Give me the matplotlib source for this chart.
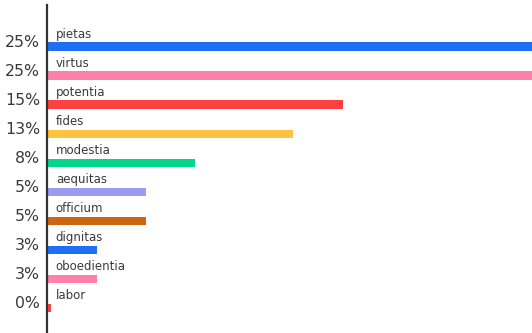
import numpy as np
import matplotlib.pyplot as plt

# data
categories = ['pietas', 'virtus', 'potentia', 'fides', 'modestia',
              'aequitas', 'officium', 'dignitas', 'oboedientia', 'labor']
counts = [10, 10, 6, 5, 3, 2, 2, 1, 1, 0]
colors = ['#1f6ff5', '#ff80aa', '#ff4040', '#ffc43d', '#00d68c',
          '#9a9af2', '#cc6610', '#1f6ff5', '#ff80aa', '#ff4040']

total = sum(counts)
pct_labels = [f'{round(c / total * 100 + 1e-9)}%' for c in counts]

fig = plt.figure(figsize=(5.32, 3.33), dpi=100)
ax = fig.add_axes([47 / 532, 0, 485 / 532, 328 / 333])

y = np.arange(len(categories))
# give empty categories a tiny visible stub like the original
widths = np.maximum(counts, 0.06)
ax.barh(y, widths, height=0.31, color=colors, left=0.02)

ax.set_xlim(0, 9.88)
ax.set_ylim(9.862, -1.448)

for i, (cat, pct) in enumerate(zip(categories, pct_labels)):
    ax.text(0.18, i - 0.31, cat, ha='left', va='baseline',
            fontsize=8.5, color='#3a3a3a')
    ax.text(-0.14, i - 0.15, pct, ha='right', va='center',
            fontsize=11.3, color='#3a3a3a', clip_on=False)

for s in ['top', 'right', 'bottom']:
    ax.spines[s].set_visible(False)
ax.spines['left'].set_linewidth(1.6)
ax.spines['left'].set_color('#333333')
ax.set_xticks([])
ax.set_yticks([])

fig.savefig('out.png', dpi=100)
